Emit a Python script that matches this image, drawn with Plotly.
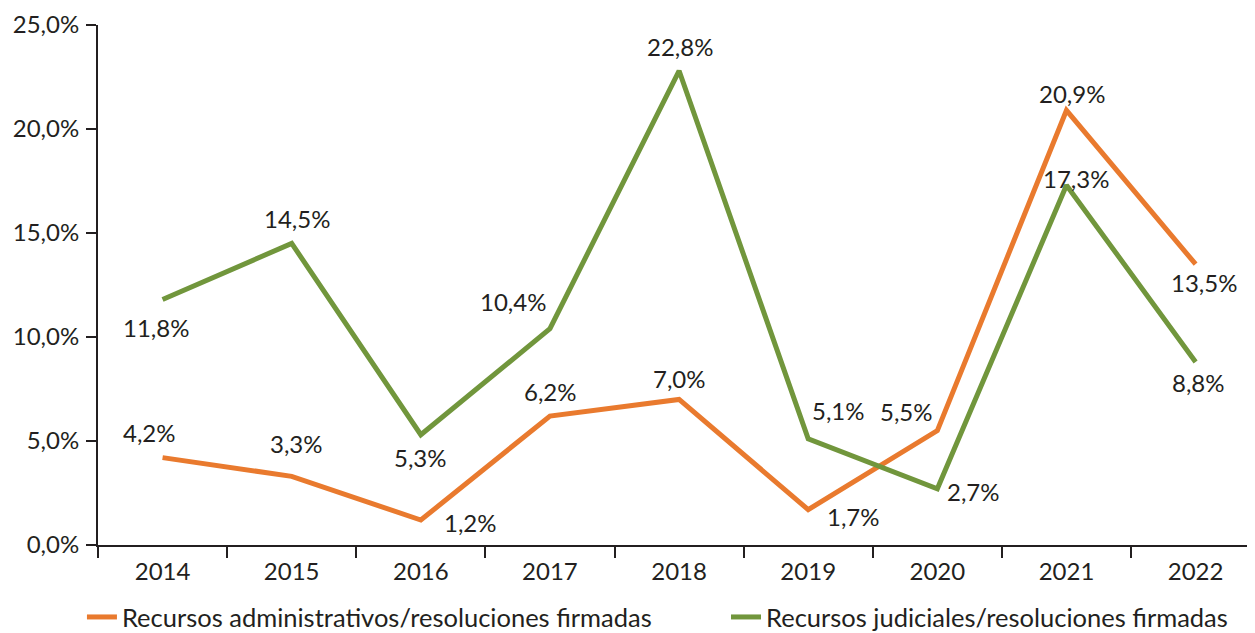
import plotly.graph_objects as go

years = ["2014", "2015", "2016", "2017", "2018", "2019", "2020", "2021", "2022"]
administrativos = [4.2, 3.3, 1.2, 6.2, 7.0, 1.7, 5.5, 20.9, 13.5]
judiciales = [11.8, 14.5, 5.3, 10.4, 22.8, 5.1, 2.7, 17.3, 8.8]
y_ticks = [0, 5, 10, 15, 20, 25]
series_names = ["Recursos administrativos/resoluciones firmadas",
                "Recursos judiciales/resoluciones firmadas"]

# label pixel offsets (dx, dy) relative to each point; dy positive = up
adm_offsets = [(-13, 25), (5, 33), (50, -2), (1, 25), (0, 21), (45, -7), (-31, 19), (6, 17), (8, -18)]
jud_offsets = [(-7, -28), (5, 25), (0, -23), (-37, 27), (1, 24), (30, 28), (36, -3), (10, 7), (3, -21)]

ORANGE = "#E97A2E"
GREEN = "#71963C"
DARK = "#231F20"
FONT = "Lato"
FS = 24

def fmt(v):
    return f"{v:.1f}".replace(".", ",") + "%"

fig = go.Figure()
fig.add_trace(go.Scatter(x=years, y=administrativos, mode="lines", name=series_names[0],
                         line=dict(color=ORANGE, width=5), legend="legend"))
fig.add_trace(go.Scatter(x=years, y=judiciales, mode="lines", name=series_names[1],
                         line=dict(color=GREEN, width=5), legend="legend2"))

for vals, offs in ((administrativos, adm_offsets), (judiciales, jud_offsets)):
    for i, (v, (dx, dy)) in enumerate(zip(vals, offs)):
        fig.add_annotation(x=i, y=v, xref="x", yref="y", text=fmt(v), showarrow=False,
                           xshift=dx, yshift=dy,
                           font=dict(family=FONT, size=FS, color=DARK))

legend_font = dict(family=FONT, size=25.5, color=DARK)
fig.update_layout(
    width=1247, height=625,
    margin=dict(l=90, r=0, t=17, b=88),
    plot_bgcolor="white", paper_bgcolor="white",
    font=dict(family=FONT, size=FS, color=DARK),
    showlegend=True,
    legend=dict(orientation="h", xref="container", yref="container", x=0.0593, xanchor="left",
                y=0.025, yanchor="middle", font=legend_font, bgcolor="rgba(0,0,0,0)"),
    legend2=dict(orientation="h", xref="container", yref="container", x=0.5758, xanchor="left",
                 y=0.025, yanchor="middle", font=legend_font, bgcolor="rgba(0,0,0,0)"),
    xaxis=dict(type="category", range=[-0.5, 8.46], showline=True, linecolor=DARK, linewidth=2,
               ticks="outside", tickson="boundaries", ticklen=11, tickwidth=2, tickcolor=DARK,
               showgrid=False, automargin=False, ticklabelstandoff=4,
               tickfont=dict(family=FONT, size=FS, color=DARK)),
    yaxis=dict(range=[0, 25], tickvals=y_ticks, ticktext=[fmt(t) for t in y_ticks],
               showline=True, linecolor=DARK, linewidth=2, ticks="outside", ticklen=10,
               tickwidth=2, tickcolor=DARK, showgrid=False, zeroline=False, automargin=False,
               ticklabelstandoff=2,
               tickfont=dict(family=FONT, size=FS, color=DARK)),
)

fig.write_html("out.html")
